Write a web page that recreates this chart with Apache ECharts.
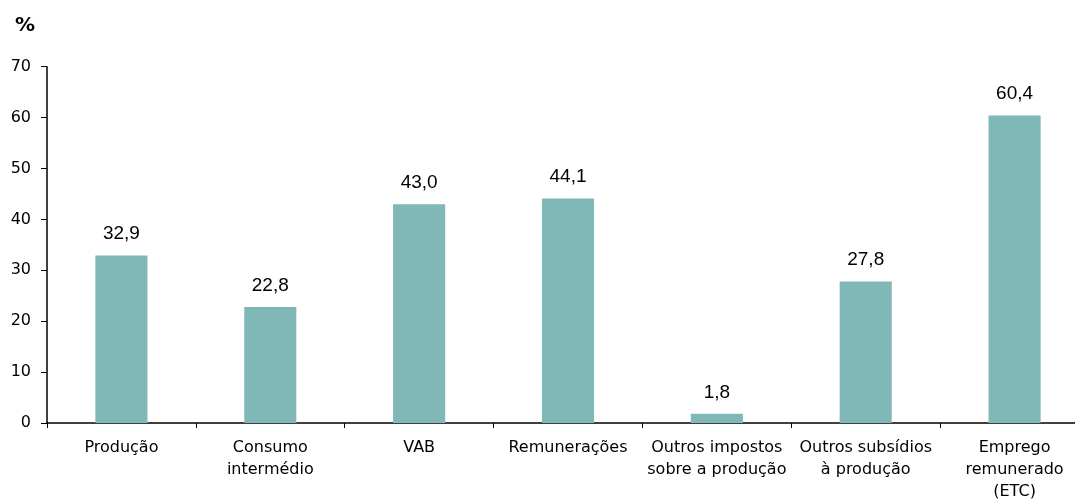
<!DOCTYPE html>
<html><head><meta charset="utf-8">
<script src="https://cdn.jsdelivr.net/npm/echarts@6/dist/echarts.min.js"></script>
<style>html,body{margin:0;padding:0;background:#fff}#w{width:1075px;height:503px;overflow:hidden;position:relative}#c{position:absolute;left:0;top:0;width:1089px;height:503px}</style>
</head><body><div id="w"><div id="c"></div></div>
<script>
const categories = ['Produção', 'Consumo\nintermédio', 'VAB', 'Remunerações', 'Outros impostos\nsobre a produção', 'Outros subsídios\nà produção', 'Emprego\nremunerado\n(ETC)'];
const values = [32.9, 22.8, 43.0, 44.1, 1.8, 27.8, 60.4];
const yTicks = [0, 10, 20, 30, 40, 50, 60, 70];
const unitLabel = '%';

const chart = echarts.init(document.getElementById('c'));
chart.setOption({
  animation: false,
  title: { text: unitLabel, left: 10, top: 11, textStyle: { fontFamily: 'DejaVu Sans', fontSize: 20, fontWeight: 'bold', color: '#000' } },
  grid: { left: 47, top: 66.7, bottom: 78, right: 0, containLabel: false },
  xAxis: {
    type: 'category', data: categories,
    axisLine: { lineStyle: { color: '#000', width: 1.5 } },
    axisTick: { show: true, length: 5, lineStyle: { color: '#000' } },
    axisLabel: { fontFamily: 'DejaVu Sans', fontSize: 16, color: '#000', lineHeight: 22, margin: 14, interval: 0 }
  },
  yAxis: {
    type: 'value', min: yTicks[0], max: yTicks[yTicks.length - 1], interval: 10,
    splitLine: { show: false },
    axisLine: { show: true, lineStyle: { color: '#000', width: 1.5 } },
    axisTick: { show: true, length: 6, lineStyle: { color: '#000' } },
    axisLabel: { fontFamily: 'DejaVu Sans', fontSize: 16, color: '#000', margin: 16 }
  },
  series: [{
    type: 'bar', data: values, barWidth: '35%',
    itemStyle: { color: '#80B7B7' },
    label: {
      show: true, position: 'top', distance: 12,
      fontFamily: 'Liberation Sans', fontSize: 19, color: '#000',
      formatter: p => p.value.toFixed(1).replace('.', ',')
    }
  }]
});
</script></body></html>
